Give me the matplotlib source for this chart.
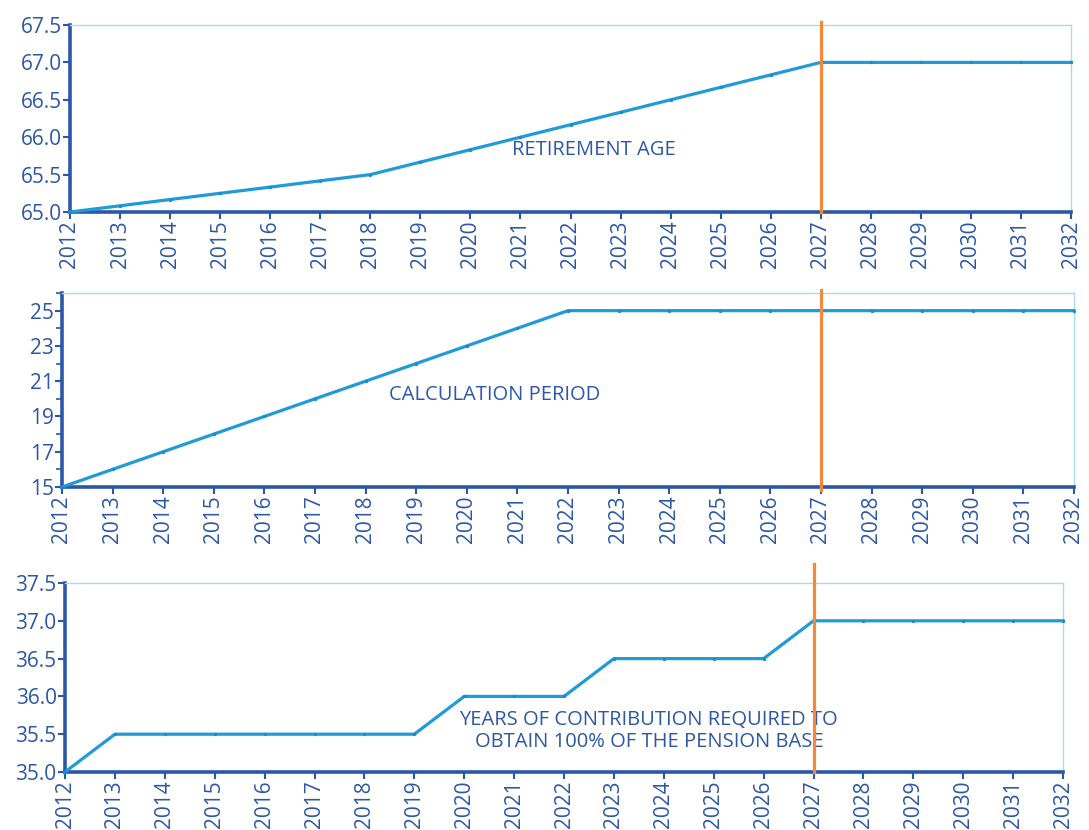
import matplotlib
matplotlib.use("Agg")
import matplotlib.pyplot as plt
from matplotlib.ticker import MultipleLocator, FixedLocator, FormatStrFormatter
import matplotlib.transforms as mtransforms

years = list(range(2012, 2033))
retirement_age = [65.0, 65.083, 65.167, 65.25, 65.333, 65.417, 65.5, 65.667, 65.833, 66.0,
                  66.167, 66.333, 66.5, 66.667, 66.833, 67.0, 67.0, 67.0, 67.0, 67.0, 67.0]
calculation_period = [15, 16, 17, 18, 19, 20, 21, 22, 23, 24, 25, 25, 25, 25, 25, 25, 25, 25, 25, 25, 25]
contribution_years = [35.0, 35.5, 35.5, 35.5, 35.5, 35.5, 35.5, 35.5, 36.0, 36.0, 36.0,
                      36.5, 36.5, 36.5, 36.5, 37.0, 37.0, 37.0, 37.0, 37.0, 37.0]
period_ticks = [15, 17, 19, 21, 23, 25]
marker_year = 2027
labels = ["RETIREMENT AGE", "CALCULATION PERIOD",
          "YEARS OF CONTRIBUTION REQUIRED TO\nOBTAIN 100% OF THE PENSION BASE"]

plt.rcParams['font.family'] = ['Open Sans', 'DejaVu Sans']

DARK = '#2b57a6'
LINE = '#1f9bd7'
LIGHT = '#a9daf2'
ORANGE = '#f5883a'

fig = plt.figure(figsize=(10.89, 8.30), dpi=100)

specs = [
    dict(rect=[70/1089, 1-212/830, 1001/1089, 187/830], data=retirement_age,
         ylim=(65.0, 67.5), major=0.5, fixed=None, fmt='%.1f',
         label=labels[0], lpos=(2022.47, 65.83), ext=(0.0, 1.015)),
    dict(rect=[62/1089, 1-487/830, 1012/1089, 194/830], data=calculation_period,
         ylim=(15, 26), major=None, fixed=period_ticks, fmt='%d',
         label=labels[1], lpos=(2020.55, 20.2), ext=(-0.015, 1.015)),
    dict(rect=[65/1089, 1-772/830, 998/1089, 189/830], data=contribution_years,
         ylim=(35.0, 37.5), major=0.5, fixed=None, fmt='%.1f',
         label=labels[2], lpos=(2023.7, 35.54), ext=(0.0, 1.1)),
]

for s in specs:
    ax = fig.add_axes(s['rect'])
    ax.plot(years, s['data'], color=LINE, lw=2.3, marker='o', ms=1.4,
            mfc='#1b8ccb', mec='#1b8ccb', clip_on=False, zorder=3)
    ax.set_xlim(2012, 2032)
    ax.set_ylim(*s['ylim'])
    ax.set_xticks(years)
    ax.set_xticklabels([str(y) for y in years], rotation=90)
    if s['fixed']:
        ax.yaxis.set_major_locator(FixedLocator(s['fixed']))
        ax.yaxis.set_minor_locator(FixedLocator([t + 1 for t in s['fixed']]))
        ax.tick_params(axis='y', which='minor', length=4, width=1.2, color=DARK, direction='out')
    else:
        ax.yaxis.set_major_locator(MultipleLocator(s['major']))
    ax.yaxis.set_major_formatter(FormatStrFormatter(s['fmt']))
    ax.tick_params(axis='both', which='major', labelsize=15, labelcolor=DARK, color=DARK,
                   length=5, width=1.5, direction='out', pad=1)
    for side in ['left', 'bottom']:
        ax.spines[side].set_color(DARK)
        ax.spines[side].set_linewidth(2.6)
    for side in ['top', 'right']:
        ax.spines[side].set_color(LIGHT)
        ax.spines[side].set_linewidth(1.0)
    trans = mtransforms.blended_transform_factory(ax.transData, ax.transAxes)
    ax.plot([marker_year, marker_year], list(s['ext']), color=ORANGE, lw=2.3,
            transform=trans, clip_on=False, zorder=4)
    ax.text(s['lpos'][0], s['lpos'][1], s['label'], color=DARK, fontsize=14.5,
            ha='center', va='center', linespacing=1.1)

fig.savefig('out.png', dpi=100)
